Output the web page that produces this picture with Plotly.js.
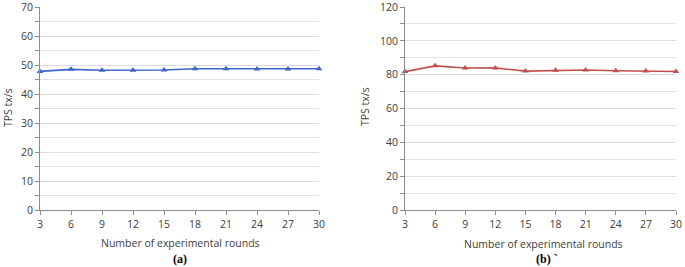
<!DOCTYPE html>
<html><head><meta charset="utf-8">
<script src="https://cdn.plot.ly/plotly-3.0.1.min.js"></script>
<style>html,body{margin:0;padding:0;background:#fff}#c{width:685px;height:267px}</style>
</head><body><div id="c"></div>
<script>
const rounds = [3, 6, 9, 12, 15, 18, 21, 24, 27, 30];
const tpsA = [47.8, 48.5, 48.2, 48.2, 48.3, 48.7, 48.7, 48.6, 48.6, 48.7];
const tpsB = [81.8, 85.2, 83.9, 84.0, 82.1, 82.6, 82.8, 82.3, 82.1, 81.9];
const xTitle = 'Number of experimental rounds';
const yTitle = 'TPS tx/s';
const captions = ['(a)', '(b) `'];

const W = 685, H = 267;
const px = v => v / W, py = v => 1 - v / H;
const font = {family: 'Open Sans, sans-serif', size: 10.5, color: '#404040'};

function xax(dom, anchor) {
  return {domain: dom, anchor: anchor, range: [3, 30], tick0: 3, dtick: 3, tickmode: 'linear',
    showgrid: false, zeroline: false, showline: true, linecolor: '#8c8c8c', linewidth: 1,
    ticks: 'outside', ticklen: 4, tickcolor: '#8c8c8c', tickfont: font, ticklabeloverflow: 'allow', fixedrange: true};
}
function yax(dom, anchor, max, dt) {
  return {domain: dom, anchor: anchor, range: [0, max], dtick: dt, tick0: 0, tickmode: 'linear',
    showgrid: true, gridcolor: '#dcdcdc', gridwidth: 1, zeroline: false,
    showline: true, linecolor: '#8c8c8c', linewidth: 1,
    ticks: 'outside', ticklen: 4, tickcolor: '#8c8c8c', tickfont: font, ticklabeloverflow: 'allow',
    minor: {dtick: dt / 2, showgrid: true, gridcolor: '#e3e3e3', ticks: 'outside', ticklen: 4, tickcolor: '#8c8c8c'},
    fixedrange: true};
}

const yDom = [py(210), py(7)];
const data = [
  {x: rounds, y: tpsA, xaxis: 'x', yaxis: 'y', type: 'scatter', mode: 'lines+markers',
   line: {color: '#3f66c4', width: 1.6}, marker: {symbol: 'triangle-up', size: 6, color: '#3f66c4'}, cliponaxis: false},
  {x: rounds, y: tpsB, xaxis: 'x2', yaxis: 'y2', type: 'scatter', mode: 'lines+markers',
   line: {color: '#c0504d', width: 1.6}, marker: {symbol: 'triangle-up', size: 6, color: '#c0504d'}, cliponaxis: false}
];

const layout = {
  width: W, height: H, margin: {l: 0, r: 0, t: 0, b: 0},
  paper_bgcolor: '#fff', plot_bgcolor: '#fff', showlegend: false,
  xaxis: xax([px(40), px(319)], 'y'),
  yaxis: yax(yDom, 'x', 70, 10),
  xaxis2: xax([px(405), px(676)], 'y2'),
  yaxis2: yax(yDom, 'x2', 120, 20),
  annotations: [
    {text: xTitle, xref: 'paper', yref: 'paper', x: px(180), y: py(243), showarrow: false, font: font, xanchor: 'center', yanchor: 'middle'},
    {text: xTitle, xref: 'paper', yref: 'paper', x: px(543), y: py(244), showarrow: false, font: font, xanchor: 'center', yanchor: 'middle'},
    {text: yTitle, xref: 'paper', yref: 'paper', x: px(8), y: py(108), showarrow: false, font: font, textangle: -90, xanchor: 'center', yanchor: 'middle'},
    {text: yTitle, xref: 'paper', yref: 'paper', x: px(365), y: py(107), showarrow: false, font: font, textangle: -90, xanchor: 'center', yanchor: 'middle'},
    {text: '<b>' + captions[0] + '</b>', xref: 'paper', yref: 'paper', x: px(180), y: py(259), showarrow: false,
     font: {family: 'Liberation Serif, serif', size: 12, color: '#000'}, xanchor: 'center', yanchor: 'middle'},
    {text: '<b>' + captions[1] + '</b>', xref: 'paper', yref: 'paper', x: px(547), y: py(259), showarrow: false,
     font: {family: 'Liberation Serif, serif', size: 12, color: '#000'}, xanchor: 'center', yanchor: 'middle'}
  ]
};
Plotly.newPlot('c', data, layout, {displayModeBar: false, staticPlot: true});
</script></body></html>
